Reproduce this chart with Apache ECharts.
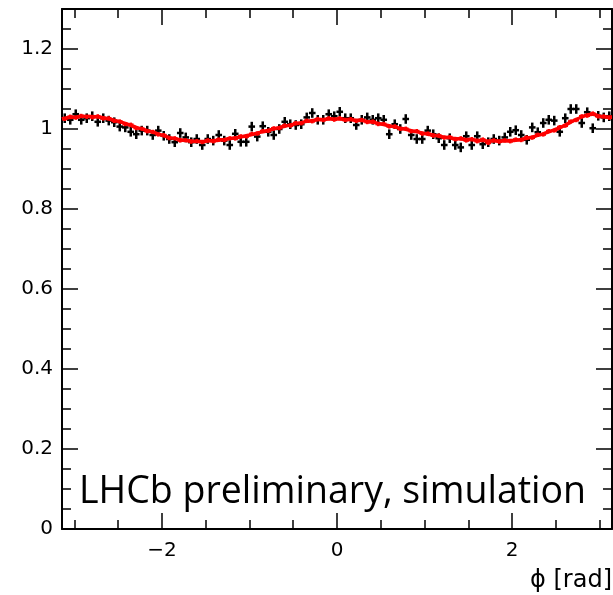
<!DOCTYPE html>
<html>
<head>
<meta charset="utf-8">
<script src="https://cdn.jsdelivr.net/npm/echarts@6/dist/echarts.min.js"></script>
<style>
html, body { margin: 0; padding: 0; background: #fff; }
#main { width: 613px; height: 595px; }
</style>
</head>
<body>
<div id="main"></div>
<script>
// 100 bins in phi, from -pi to pi
var nBins = 100;

// black points (data)
var dataVals = [
	1.027, 1.023, 1.037, 1.023, 1.027, 1.032, 1.018, 1.027, 1.021, 1.017,
	1.006, 1.004, 0.993, 0.987, 0.996, 0.996, 0.985, 0.996, 0.983, 0.975,
	0.967, 0.990, 0.979, 0.967, 0.975, 0.960, 0.975, 0.971, 0.985, 0.971,
	0.960, 0.988, 0.968, 0.968, 1.006, 0.981, 1.007, 0.993, 0.985, 1.000,
	1.018, 1.012, 1.010, 1.012, 1.029, 1.040, 1.023, 1.023, 1.037, 1.032,
	1.043, 1.027, 1.027, 1.010, 1.023, 1.029, 1.023, 1.027, 1.023, 0.987,
	1.012, 1.000, 1.025, 0.985, 0.975, 0.975, 0.996, 0.987, 0.977, 0.960,
	0.977, 0.960, 0.954, 0.982, 0.960, 0.982, 0.962, 0.967, 0.975, 0.971,
	0.979, 0.993, 0.997, 0.985, 0.973, 1.004, 0.992, 1.015, 1.023, 1.021,
	0.993, 1.027, 1.050, 1.050, 1.015, 1.042, 1.002, 1.033, 1.029, 1.032
];
var dataErr = 0.012;

// red points
var redVals = [
	1.025, 1.031, 1.028, 1.033, 1.030, 1.029, 1.032, 1.026, 1.027, 1.020,
	1.019, 1.012, 1.011, 1.002, 1.001, 0.994, 0.993, 0.986, 0.985, 0.977,
	0.977, 0.971, 0.972, 0.968, 0.970, 0.967, 0.972, 0.969, 0.974, 0.972,
	0.977, 0.976, 0.982, 0.981, 0.988, 0.988, 0.995, 0.995, 1.002, 1.002,
	1.009, 1.008, 1.015, 1.014, 1.021, 1.019, 1.025, 1.022, 1.027, 1.023,
	1.027, 1.022, 1.025, 1.020, 1.023, 1.017, 1.019, 1.012, 1.013, 1.006,
	1.007, 1.000, 1.001, 0.994, 0.995, 0.988, 0.989, 0.983, 0.984, 0.978,
	0.980, 0.974, 0.977, 0.971, 0.975, 0.969, 0.974, 0.965, 0.972, 0.968,
	0.972, 0.969, 0.974, 0.972, 0.979, 0.978, 0.986, 0.986, 0.995, 0.996,
	1.005, 1.008, 1.019, 1.022, 1.032, 1.033, 1.039, 1.031, 1.032, 1.028
];
var redErr = 0.005;

// red fit curve, per bin, plus the values at -pi and +pi
var fitVals = [
	1.027, 1.029, 1.030, 1.031, 1.032, 1.031, 1.030, 1.028, 1.025, 1.022,
	1.018, 1.014, 1.009, 1.004, 1.000, 0.996, 0.992, 0.988, 0.983, 0.979,
	0.976, 0.973, 0.971, 0.970, 0.969, 0.969, 0.970, 0.971, 0.972, 0.974,
	0.976, 0.978, 0.980, 0.983, 0.986, 0.990, 0.993, 0.997, 1.000, 1.004,
	1.007, 1.010, 1.013, 1.016, 1.019, 1.021, 1.023, 1.024, 1.025, 1.025,
	1.025, 1.024, 1.023, 1.022, 1.021, 1.019, 1.017, 1.014, 1.011, 1.008,
	1.005, 1.002, 0.999, 0.996, 0.993, 0.990, 0.987, 0.985, 0.982, 0.980,
	0.978, 0.976, 0.975, 0.974, 0.973, 0.972, 0.971, 0.970, 0.970, 0.970,
	0.970, 0.971, 0.972, 0.974, 0.977, 0.980, 0.984, 0.988, 0.993, 0.998,
	1.003, 1.010, 1.017, 1.024, 1.030, 1.035, 1.037, 1.033, 1.030, 1.030
];
var fitEdges = [1.025, 1.030];

// ticks and labels
var xLabels = [-2, 0, 2];
var xMinor = [-3, -2.5, -2, -1.5, -1, -0.5, 0, 0.5, 1, 1.5, 2, 2.5, 3];
var yLabels = [0, 0.2, 0.4, 0.6, 0.8, 1, 1.2];
var yMinor = [];
for (var k = 0; k <= 26; k++) yMinor.push(+(k * 0.05).toFixed(2));

var PI = Math.PI;
var binW = 2 * PI / nBins;
function binX(i) { return -PI + (i + 0.5) * binW; }

var blackData = dataVals.map(function (v, i) { return [binX(i), v, dataErr]; });
var redData = redVals.map(function (v, i) { return [binX(i), v, redErr]; });
var fitData = [[-PI, fitEdges[0]]];
fitVals.forEach(function (v, i) { fitData.push([binX(i), v]); });
fitData.push([PI, fitEdges[1]]);

function errBars(color, lw, hw) {
	return function (params, api) {
		var x = api.value(0), y = api.value(1), e = api.value(2);
		var lo = api.coord([x, y - e]), hi = api.coord([x, y + e]);
		var l = api.coord([x - binW * hw, y]), r = api.coord([x + binW * hw, y]);
		return {
			type: 'group',
			children: [
				{ type: 'line', shape: { x1: lo[0], y1: lo[1], x2: hi[0], y2: hi[1] }, style: { stroke: color, lineWidth: lw } },
				{ type: 'line', shape: { x1: l[0], y1: l[1], x2: r[0], y2: r[1] }, style: { stroke: color, lineWidth: lw } }
			]
		};
	};
}

var labelFont = { color: '#000', fontSize: 20, fontFamily: 'DejaVu Sans' };
var axisLineStyle = { color: '#000', width: 2 };

function xAx(pos, vals, len, showLine, showLabel) {
	return {
		type: 'value', position: pos, min: -PI, max: PI,
		axisLine: { show: showLine, onZero: false, lineStyle: axisLineStyle },
		axisTick: { show: true, inside: true, length: len, customValues: vals, lineStyle: { color: '#000', width: 1.5 } },
		axisLabel: showLabel ? Object.assign({
			show: true, margin: 12, customValues: xLabels,
			formatter: function (v) { return v < 0 ? '\u2212' + (-v) : String(v); }
		}, labelFont) : { show: false },
		splitLine: { show: false }
	};
}
function yAx(pos, vals, len, showLine, showLabel) {
	return {
		type: 'value', position: pos, min: 0, max: 1.3,
		axisLine: { show: showLine, onZero: false, lineStyle: axisLineStyle },
		axisTick: { show: true, inside: true, length: len, customValues: vals, lineStyle: { color: '#000', width: 1.5 } },
		axisLabel: showLabel ? Object.assign({ show: true, margin: 9, customValues: yLabels }, labelFont) : { show: false },
		splitLine: { show: false }
	};
}

var myChart = echarts.init(document.getElementById('main'));
var option = {
	animation: false,
	backgroundColor: '#fff',
	grid: { left: 62, right: 1, top: 9, bottom: 66 },
	xAxis: [
		xAx('bottom', xLabels, 16, true, true),
		xAx('bottom', xMinor, 9, false, false),
		xAx('top', xLabels, 16, true, false),
		xAx('top', xMinor, 9, false, false)
	],
	yAxis: [
		yAx('left', yLabels, 16, true, true),
		yAx('left', yMinor, 9, false, false),
		yAx('right', yLabels, 16, true, false),
		yAx('right', yMinor, 9, false, false)
	],
	graphic: [
		{
			type: 'text', x: 79, y: 511, z: 100,
			style: { text: 'LHCb preliminary, simulation', fill: '#000', fontSize: 37.5, fontFamily: 'Open Sans', align: 'left', verticalAlign: 'bottom' }
		},
		{
			type: 'text', x: 612, y: 593, z: 100,
			style: { text: '\u03d5 [rad]', fill: '#000', fontSize: 24, fontFamily: 'DejaVu Sans', align: 'right', verticalAlign: 'bottom' }
		}
	],
	series: [
		{
			name: 'data', type: 'custom', xAxisIndex: 0, yAxisIndex: 0,
			renderItem: errBars('#000', 2.5, 0.6), data: blackData, encode: { x: 0, y: 1 }, z: 2
		},
		{
			name: 'sim', type: 'custom', xAxisIndex: 0, yAxisIndex: 0,
			renderItem: errBars('#ff0000', 2.5, 0.5), data: redData, encode: { x: 0, y: 1 }, z: 3
		},
		{
			name: 'fit', type: 'line', xAxisIndex: 0, yAxisIndex: 0,
			data: fitData, smooth: true, showSymbol: false,
			lineStyle: { color: '#ff0000', width: 3.5 }, z: 4
		}
	]
};
myChart.setOption(option);
</script>
</body>
</html>
